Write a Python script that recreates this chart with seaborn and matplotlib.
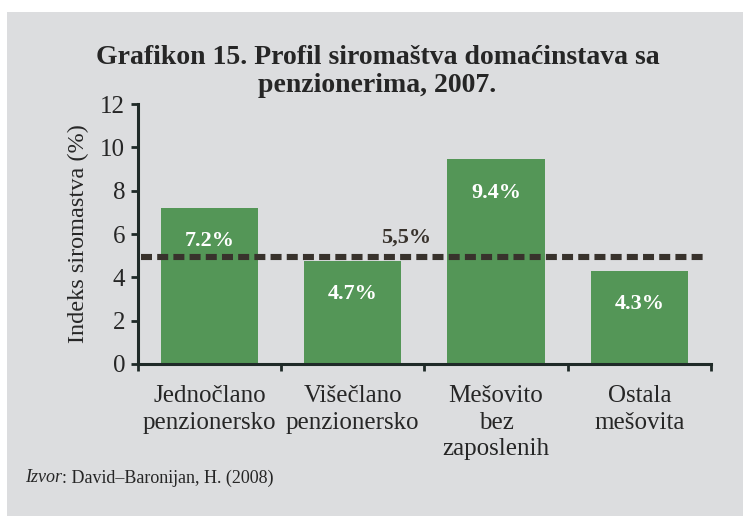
import matplotlib
matplotlib.use("Agg")

import matplotlib.pyplot as plt
import seaborn as sns
import pandas as pd
from matplotlib.patches import Rectangle

# Data
categories = ["Jednočlano\npenzionersko", "Višečlano\npenzionersko",
              "Mešovito\nbez\nzaposlenih", "Ostala\nmešovita"]
values = [7.2, 4.75, 9.45, 4.3]
value_labels = ["7.2%", "4.7%", "9.4%", "4.3%"]
avg_level = 4.95
avg_label = "5,5%"
y_ticks = [0, 2, 4, 6, 8, 10, 12]
title_lines = ["Grafikon 15. Profil siromaštva domaćinstava sa", "penzionerima, 2007."]

BG = "#dcdddf"
GREEN = "#549657"
DARK = "#38322c"
AXIS = "#1f2a28"
TXT = "#262626"

sns.set_theme(style="ticks")
plt.rcParams["font.family"] = ["Liberation Serif", "DejaVu Serif"]
plt.rcParams["text.color"] = TXT

fig = plt.figure(figsize=(7.43, 5.16), dpi=100)
fig.patch.set_facecolor("white")
fig.patches.append(Rectangle((7 / 743, 0), 1 - 7 / 743, 1 - 12 / 516,
                             transform=fig.transFigure, facecolor=BG,
                             edgecolor="none", zorder=-10))

ax = fig.add_axes([0.1853, 0.2946, 0.7716, 0.5038])
ax.set_facecolor("none")

df = pd.DataFrame({"Kategorija": categories, "Vrednost": values})
sns.barplot(data=df, x="Kategorija", y="Vrednost", color=GREEN,
            saturation=1, width=0.68, linewidth=0, ax=ax, zorder=2)

# value labels inside the bars
for i, (v, lab) in enumerate(zip(values, value_labels)):
    ax.annotate(lab, xy=(i, v), xytext=(0, -24), textcoords="offset points",
                ha="center", va="center", color="white", fontsize=16,
                fontweight="bold", zorder=4)

# reference (average) line
ax.axhline(avg_level, xmin=0.006, xmax=0.9925, color=DARK, lw=4.4,
           linestyle=(0, (1.8, 0.85)), zorder=3)
ax.annotate(avg_label, xy=(1.37, avg_level), xytext=(0, 14),
            textcoords="offset points", ha="center", va="center",
            color=DARK, fontsize=16, fontweight="bold", zorder=4)

ax.set_ylim(0, 12)
ax.set_xlim(-0.5, 3.5)
ax.set_yticks(y_ticks)
ax.set_xlabel("")
ax.set_ylabel("Indeks siromastva (%)", fontsize=17.5, color=TXT, labelpad=8)

# labels at category centres, tick marks at category boundaries
ax.set_xticks(range(len(categories)))
ax.set_xticklabels(categories, fontsize=18, color=TXT, linespacing=1.28)
ax.set_xticks([i - 0.5 for i in range(len(categories) + 1)], minor=True)
ax.tick_params(axis="x", which="major", length=0, pad=15)
ax.tick_params(axis="x", which="minor", length=5, width=2, color=AXIS,
               direction="out")
ax.tick_params(axis="y", length=5, width=2, color=AXIS, labelsize=18,
               labelcolor=TXT, pad=4)

for side in ["top", "right"]:
    ax.spines[side].set_visible(False)
for side in ["left", "bottom"]:
    ax.spines[side].set_color(AXIS)
    ax.spines[side].set_linewidth(2.2)

# title as two separate lines, centred on the panel
for line, y in zip(title_lines, [1 - 58 / 516, 1 - 86 / 516]):
    fig.text(0.508, y, line, ha="center", va="center", fontsize=20,
             fontweight="bold", color=TXT)

src = fig.text(25 / 743, 1 - 478 / 516, "Izvor", style="italic",
               fontsize=13, va="center", color=TXT)
ax.annotate(": David–Baronijan, H. (2008)", xy=(1, 0.5), xycoords=src,
            va="center", ha="left", fontsize=13, color=TXT,
            annotation_clip=False)

fig.savefig("out.png", dpi=100)
